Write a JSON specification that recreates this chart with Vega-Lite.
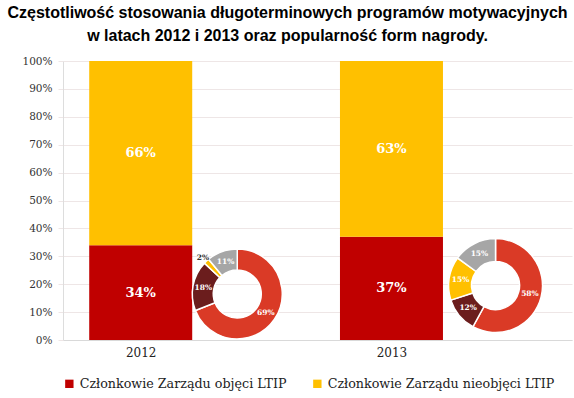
{
  "$schema": "https://vega.github.io/schema/vega-lite/v6.json",
  "width": 509,
  "height": 279,
  "autosize": {"type": "none"},
  "padding": {"left": 63, "top": 61, "right": 2, "bottom": 58},
  "background": "white",
  "title": {
    "text": ["Częstotliwość stosowania długoterminowych programów motywacyjnych", "w latach 2012 i 2013 oraz popularność form nagrody."],
    "font": "Liberation Sans",
    "fontSize": 16,
    "fontWeight": "bold",
    "color": "#000000",
    "anchor": "middle",
    "dx": -30,
    "offset": 12,
    "lineHeight": 23
  },
  "config": {
    "view": {"stroke": null},
    "axis": {"labelFont": "DejaVu Serif", "labelColor": "#333333", "title": null},
    "axisX": {"tickCount": 2, "labelExpr": "'' + datum.value", "ticks": false, "grid": false, "domainColor": "#D9D9D9", "labelFontSize": 12, "labelColor": "#222222", "labelPadding": 7},
    "axisY": {"tickCount": 10, "labelExpr": "datum.value + '%'", "labelFontSize": 10.5, "labelOverlap": false, "gridColor": "#EEE6E6", "domainColor": "#DDDDDD", "tickColor": "#EEE6E6", "tickSize": 5, "labelPadding": 6}
  },
  "datasets": {
    "bars": [
      {"rok": 2012, "grupa": "Członkowie Zarządu objęci LTIP", "udzial": 34},
      {"rok": 2012, "grupa": "Członkowie Zarządu nieobjęci LTIP", "udzial": 66},
      {"rok": 2013, "grupa": "Członkowie Zarządu objęci LTIP", "udzial": 37},
      {"rok": 2013, "grupa": "Członkowie Zarządu nieobjęci LTIP", "udzial": 63}
    ],
    "formy": [
      {"rok": 2012, "forma": "forma 1", "udzial": 69},
      {"rok": 2012, "forma": "forma 2", "udzial": 18},
      {"rok": 2012, "forma": "forma 3", "udzial": 2},
      {"rok": 2012, "forma": "forma 4", "udzial": 11},
      {"rok": 2013, "forma": "forma 1", "udzial": 58},
      {"rok": 2013, "forma": "forma 2", "udzial": 12},
      {"rok": 2013, "forma": "forma 3", "udzial": 15},
      {"rok": 2013, "forma": "forma 4", "udzial": 15}
    ]
  },
  "resolve": {"scale": {"color": "independent"}},
  "layer": [
    {
      "data": {"name": "bars"},
      "mark": {"type": "bar", "size": 103},
      "encoding": {
        "x": {
          "field": "rok", "type": "quantitative",
          "scale": {"domain": [2011.71, 2013.70], "nice": false, "zero": false}
        },
        "y": {
          "field": "udzial", "type": "quantitative", "stack": "zero",
          "scale": {"domain": [0, 100], "nice": false}
        },
        "order": {"field": "grupa", "sort": "descending"},
        "color": {
          "field": "grupa", "type": "nominal",
          "scale": {"domain": ["Członkowie Zarządu objęci LTIP", "Członkowie Zarządu nieobjęci LTIP"], "range": ["#C00000", "#FFC000"]},
          "legend": {"orient": "bottom", "direction": "horizontal", "title": null, "symbolType": "square", "symbolSize": 70, "labelFont": "DejaVu Serif", "labelFontSize": 12.7, "labelColor": "#222222", "labelLimit": 400, "columnPadding": 24, "offset": 19}
        }
      }
    },
    {
      "data": {"name": "bars"},
      "transform": [
        {"stack": "udzial", "groupby": ["rok"], "sort": [{"field": "grupa", "order": "descending"}], "as": ["y0", "y1"]},
        {"calculate": "(datum.y0 + datum.y1) / 2", "as": "srodek"},
        {"calculate": "datum.udzial + '%'", "as": "etykieta"}
      ],
      "mark": {"type": "text", "font": "DejaVu Serif", "fontSize": 13, "fontWeight": "bold", "color": "white"},
      "encoding": {
        "x": {"field": "rok", "type": "quantitative"},
        "y": {"field": "srodek", "type": "quantitative"},
        "text": {"field": "etykieta"}
      }
    },
    {
      "data": {"name": "formy"},
      "transform": [{"filter": "datum.rok == 2012"}, {"calculate": "datum.udzial + '%'", "as": "etykieta"}],
      "encoding": {
        "x": {"datum": 2012.385, "type": "quantitative"},
        "y": {"datum": 16.5, "type": "quantitative"},
        "theta": {"field": "udzial", "type": "quantitative", "stack": true},
        "order": {"field": "forma"}
      },
      "layer": [
        {
          "mark": {"type": "arc", "outerRadius": 45, "innerRadius": 24, "stroke": "white", "strokeWidth": 1.5},
          "encoding": {
            "color": {"field": "forma", "type": "nominal", "scale": {"domain": ["forma 1", "forma 2", "forma 3", "forma 4"], "range": ["#DA3A26", "#6B1D1D", "#FFC000", "#A6A6A6"]}, "legend": null}
          }
        },
        {
          "mark": {"type": "text", "radius": 34.5, "font": "DejaVu Serif", "fontSize": 7.5, "fontWeight": "bold", "color": "white"},
          "encoding": {"text": {"condition": {"test": "datum.udzial < 5", "value": ""}, "field": "etykieta"}}
        },
        {
          "mark": {"type": "text", "radius": 50, "font": "DejaVu Serif", "fontSize": 7.5, "fontWeight": "bold", "color": "#333333"},
          "encoding": {"text": {"condition": {"test": "datum.udzial >= 5", "value": ""}, "field": "etykieta"}}
        }
      ]
    },
    {
      "data": {"name": "formy"},
      "transform": [{"filter": "datum.rok == 2013"}, {"calculate": "datum.udzial + '%'", "as": "etykieta"}],
      "encoding": {
        "x": {"datum": 2013.415, "type": "quantitative"},
        "y": {"datum": 19.5, "type": "quantitative"},
        "theta": {"field": "udzial", "type": "quantitative", "stack": true},
        "order": {"field": "forma"}
      },
      "layer": [
        {
          "mark": {"type": "arc", "outerRadius": 47, "innerRadius": 24, "stroke": "white", "strokeWidth": 1.5},
          "encoding": {
            "color": {"field": "forma", "type": "nominal", "scale": {"domain": ["forma 1", "forma 2", "forma 3", "forma 4"], "range": ["#DA3A26", "#6B1D1D", "#FFC000", "#A6A6A6"]}, "legend": null}
          }
        },
        {
          "mark": {"type": "text", "radius": 35.5, "font": "DejaVu Serif", "fontSize": 7.5, "fontWeight": "bold", "color": "white"},
          "encoding": {"text": {"field": "etykieta"}}
        }
      ]
    }
  ]
}
